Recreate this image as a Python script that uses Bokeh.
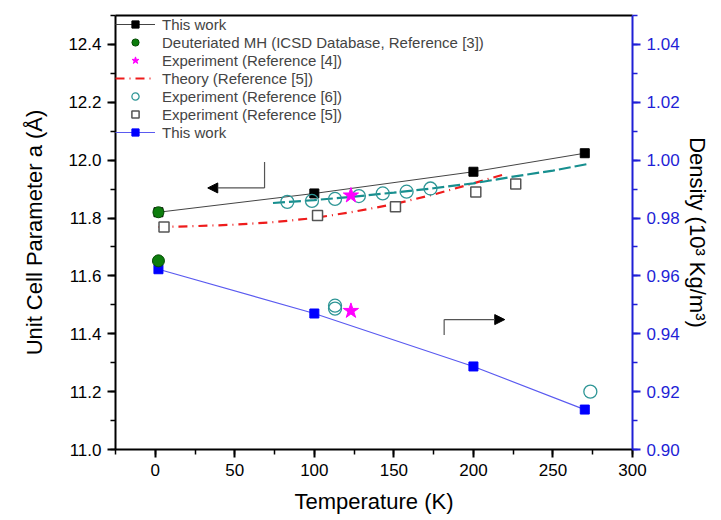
import math
from bokeh.plotting import figure
from bokeh.models import (Range1d, LinearAxis, Legend, LegendItem, Arrow, NormalHead,
                          SingleIntervalTicker, FixedTicker, NumeralTickFormatter)
from bokeh.embed import file_html
from bokeh.resources import INLINE

# ---------------- data ----------------
# This work: lattice parameter a (Angstrom)
tw_a_T = [2, 100, 200, 270]
tw_a = [11.82, 11.885, 11.96, 12.024]
# This work: density (10^3 kg/m^3)
tw_rho_T = [2, 100, 200, 270]
tw_rho = [0.9623, 0.947, 0.9287, 0.9138]
# Deuteriated MH (ICSD, Ref [3])
dmh_a_T = [2]
dmh_a = [11.82]
dmh_rho_T = [2]
dmh_rho = [0.9652]
# Experiment Ref [4]
ref4_a_T = [123]
ref4_a = [11.878]
ref4_rho_T = [123]
ref4_rho = [0.9479]
# Theory Ref [5]
theory_T = [2, 25, 50, 75, 100, 125, 150, 175, 200, 220]
theory_a = [11.769, 11.772, 11.777, 11.786, 11.80, 11.822, 11.848, 11.881, 11.92, 11.952]
# Experiment Ref [6]
ref6_a_T = [83, 98.5, 113, 128, 143, 158, 173]
ref6_a = [11.856, 11.859, 11.866, 11.876, 11.885, 11.891, 11.902]
ref6_fit_T = [74, 100, 125, 150, 175, 200, 225, 250, 272]
ref6_fit_a = [11.852, 11.862, 11.874, 11.888, 11.903, 11.92, 11.943, 11.964, 11.987]
ref6_rho_T = [113, 113, 273.5]
ref6_rho = [0.9497, 0.9487, 0.920]
# Experiment Ref [5]
ref5_T = [5.5, 102, 151, 201.5, 226.6]
ref5_a = [11.769, 11.809, 11.839, 11.890, 11.918]

# indicator arrows (left-axis units)
arrow1_x = [68.7, 68.7, 33.0]
arrow1_y = [11.994, 11.904, 11.904]
arrow2_x = [181.6, 181.6, 219.7]
arrow2_y = [11.396, 11.449, 11.449]

RIGHT_TITLE = "Density (10³ Kg/m³)"
FONT = "Liberation Sans"
BLUE_AX = "#1f1fd6"

p = figure(width=713, height=518, x_range=Range1d(-25, 300), y_range=Range1d(11.0, 12.5),
           output_backend="svg", toolbar_location=None,
           min_border_left=115, min_border_right=81, min_border_top=15, min_border_bottom=69)
p.extra_y_ranges = {"rho": Range1d(0.90, 1.05)}
p.grid.visible = False
p.outline_line_color = None
p.background_fill_color = "white"
p.border_fill_color = "white"

# ---- axes ----
xa = p.xaxis[0]
xa.ticker = SingleIntervalTicker(interval=50, num_minor_ticks=2)
xa.axis_label = "Temperature (K)"
ya = p.yaxis[0]
ya.ticker = SingleIntervalTicker(interval=0.2, num_minor_ticks=2)
ya.formatter = NumeralTickFormatter(format="0.0")
ya.axis_label = "Unit Cell Parameter a (Å)"

ra = LinearAxis(y_range_name="rho", ticker=SingleIntervalTicker(interval=0.02, num_minor_ticks=2),
                formatter=NumeralTickFormatter(format="0.00"), axis_label=RIGHT_TITLE)
p.add_layout(ra, "right")

top = LinearAxis(ticker=FixedTicker(ticks=[]), major_tick_out=0, minor_tick_out=0,
                 axis_line_color="black", axis_line_width=2)
p.add_layout(top, "above")

for ax, col in ((xa, "black"), (ya, "black"), (ra, BLUE_AX)):
    ax.axis_line_color = col
    ax.axis_line_width = 2
    ax.major_tick_line_color = col
    ax.major_tick_line_width = 2
    ax.minor_tick_line_color = col
    ax.minor_tick_line_width = 1.5
    ax.major_tick_in = 0
    ax.major_tick_out = 8
    ax.minor_tick_in = 0
    ax.minor_tick_out = 5
    ax.major_label_text_font = FONT
    ax.major_label_text_font_size = "17px"
    ax.major_label_text_color = col
    ax.major_label_standoff = 6
    ax.axis_label_text_font = FONT
    ax.axis_label_text_font_size = "22px"
    ax.axis_label_text_font_style = "normal"
    ax.axis_label_text_color = "black"

xa.axis_label_standoff = 10
ya.axis_label_standoff = 18
ra.axis_label_standoff = 2

# ---- lines ----
l_tw = p.line(tw_a_T, tw_a, line_color="#444444", line_width=1)
l_tw2 = p.line(tw_rho_T, tw_rho, y_range_name="rho", line_color="#5a5af0", line_width=1.2)
l_th = p.line(theory_T, theory_a, line_color="#ee1c1c", line_width=2.2, line_dash="9 5 1 5")
l_fit = p.line(ref6_fit_T, ref6_fit_a, line_color="#178f8f", line_width=2.2, line_dash="12 4")

# ---- markers ----
s_tw = p.scatter(tw_a_T, tw_a, marker="square", size=9, fill_color="black", line_color="black")
s_tw2 = p.scatter(tw_rho_T, tw_rho, y_range_name="rho", marker="square", size=9,
                  fill_color="#0000ff", line_color="#0000ff")
s_r5 = p.scatter(ref5_T, ref5_a, marker="square", size=10, fill_color="white",
                 line_color="#555555", line_width=1.5)
s_r6 = p.scatter(ref6_a_T, ref6_a, marker="circle", size=13, fill_color=None,
                 line_color="#2e9696", line_width=1.3)
s_r6b = p.scatter(ref6_rho_T, ref6_rho, y_range_name="rho", marker="circle", size=13,
                  fill_color=None, line_color="#2e9696", line_width=1.3)
s_dmh = p.scatter(dmh_a_T, dmh_a, marker="circle", size=11, fill_color="#0d7d0d",
                  line_color="#064d06", line_width=1)
s_dmh2 = p.scatter(dmh_rho_T, dmh_rho, y_range_name="rho", marker="circle", size=12,
                   fill_color="#0d7d0d", line_color="#064d06", line_width=1)
s_r4 = p.scatter(ref4_a_T, ref4_a, marker="star", size=16, fill_color="#ff00ff", line_color="#ff00ff")
s_r4b = p.scatter(ref4_rho_T, ref4_rho, y_range_name="rho", marker="star", size=16,
                  fill_color="#ff00ff", line_color="#ff00ff")

# ---- arrows ----
for ax_x, ax_y, in ((arrow1_x, arrow1_y), (arrow2_x, arrow2_y)):
    p.line(ax_x[:2], ax_y[:2], line_color="#555555", line_width=1.2)
    p.add_layout(Arrow(end=NormalHead(size=10, fill_color="black", line_color="black"),
                       x_start=ax_x[1], y_start=ax_y[1], x_end=ax_x[2], y_end=ax_y[2],
                       line_color="#555555", line_width=1.2))

# ---- legend ----
items = [
    LegendItem(label="This work", renderers=[l_tw, s_tw]),
    LegendItem(label="Deuteriated MH (ICSD Database, Reference [3])", renderers=[s_dmh]),
    LegendItem(label="Experiment (Reference [4])", renderers=[s_r4]),
    LegendItem(label="Theory (Reference [5])", renderers=[l_th]),
    LegendItem(label="Experiment (Reference [6])", renderers=[s_r6]),
    LegendItem(label="Experiment (Reference [5])", renderers=[s_r5]),
    LegendItem(label="This work", renderers=[l_tw2, s_tw2]),
]
legend = Legend(items=items, location="top_left", border_line_color=None,
                background_fill_alpha=0, label_text_font=FONT, label_text_font_size="15px",
                glyph_width=40, glyph_height=18, label_height=18, spacing=0,
                padding=3, margin=0, label_standoff=7)
p.add_layout(legend)

open("out.html", "w").write(file_html(p, INLINE))
